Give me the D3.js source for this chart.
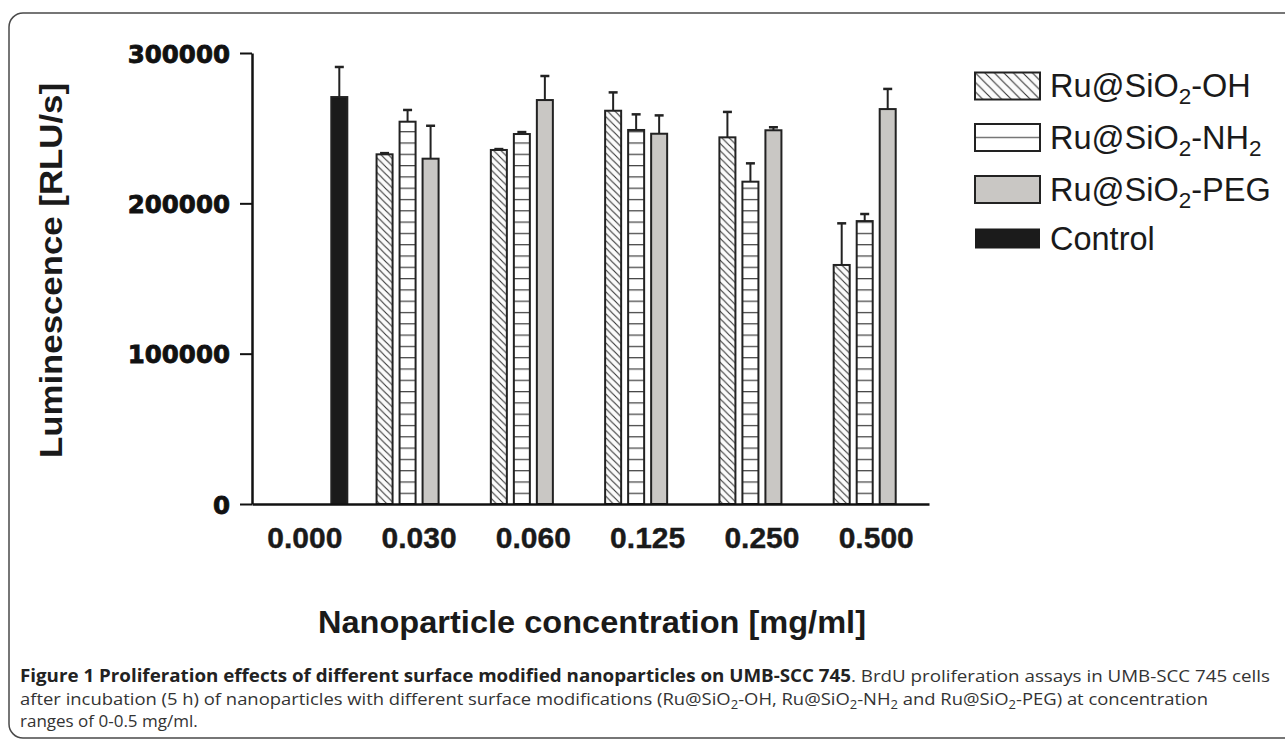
<!DOCTYPE html>
<html>
<head>
<meta charset="utf-8">
<script src="https://cdn.jsdelivr.net/npm/d3@7/dist/d3.min.js"></script>
<style>
  html, body { margin: 0; padding: 0; background: #fff; }
  svg { display: block; }
</style>
</head>
<body>
<svg id="chart" width="1285" height="740"></svg>
<script>
// ---------- data ----------
const categories = ["0.000", "0.030", "0.060", "0.125", "0.250", "0.500"];
const seriesKeys = ["OH", "NH2", "PEG", "Control"];
const ohMean   = [null, 232600, 235500, 261600, 243900, 159000];
const ohSD     = [null,    800,    600,  12200,  16900,  27700];
const nh2Mean  = [null, 254300, 246100, 248800, 214400, 188200];
const nh2SD    = [null,   7800,   1300,  10400,  12200,   4700];
const pegMean  = [null, 229700, 268700, 246300, 248600, 262700];
const pegSD    = [null,  21900,  16000,  12200,   2000,  13400];
const ctrlMean = [270700, null, null, null, null, null];
const ctrlSD   = [ 20000, null, null, null, null, null];
const yTicks = [0, 100000, 200000, 300000];
const legendLabels = [
  {key: "OH",      parts: ["Ru@SiO", "2", "-OH"]},
  {key: "NH2",     parts: ["Ru@SiO", "2", "-NH", "2"]},
  {key: "PEG",     parts: ["Ru@SiO", "2", "-PEG"]},
  {key: "Control", parts: ["Control"]}
];
const xTitle = "Nanoparticle concentration [mg/ml]";
const yTitle = "Luminescence [RLU/s]";

// ---------- build table ----------
const table = [];
categories.forEach((c, i) => {
  const vals = {OH: [ohMean[i], ohSD[i]], NH2: [nh2Mean[i], nh2SD[i]], PEG: [pegMean[i], pegSD[i]], Control: [ctrlMean[i], ctrlSD[i]]};
  seriesKeys.forEach(k => {
    if (vals[k][0] != null) table.push({cat: c, key: k, mean: vals[k][0], sd: vals[k][1]});
  });
});

const svg = d3.select("#chart");

// ---------- frame ----------
svg.append("rect").attr("x", 9).attr("y", 13).attr("width", 1300).attr("height", 725)
  .attr("rx", 14).attr("fill", "none").attr("stroke", "#4a4a4a").attr("stroke-width", 1.5);

// ---------- patterns ----------
const defs = svg.append("defs");
function diag(id, s, sw) {
  const p = defs.append("pattern").attr("id", id).attr("patternUnits", "userSpaceOnUse")
    .attr("width", s).attr("height", s);
  p.append("rect").attr("width", s).attr("height", s).attr("fill", "#fbfbfb");
  p.append("path").attr("d", `M${-s},0 L${s},${2*s} M0,0 L${s},${s} M0,${-s} L${2*s},${s}`)
    .attr("stroke", "#333").attr("stroke-width", sw);
}
diag("hatchOH", 7.3, 1.1);
diag("hatchOHleg", 9.5, 1.1);
const ph = defs.append("pattern").attr("id", "hatchNH2").attr("patternUnits", "userSpaceOnUse")
  .attr("width", 20).attr("height", 11.3).attr("y", 504);
ph.append("rect").attr("width", 20).attr("height", 11.3).attr("fill", "#fff");
ph.append("line").attr("x1", 0).attr("x2", 20).attr("y1", 0.6).attr("y2", 0.6)
  .attr("stroke", "#444").attr("stroke-width", 1.3);

const fills = {OH: "url(#hatchOH)", NH2: "url(#hatchNH2)", PEG: "#c9c7c4", Control: "#1b1b1b"};

// ---------- scales ----------
const y = d3.scaleLinear().domain([0, 300000]).range([504, 53]);
const x0 = d3.scaleBand().domain(categories).range([252, 929]).paddingInner(0.256).paddingOuter(0.09);
const x1 = d3.scaleBand().domain(seriesKeys).range([0, x0.bandwidth()]).paddingInner(0.304).paddingOuter(0);

// ---------- bars ----------
const g = svg.append("g");
g.selectAll("rect.bar").data(table).join("rect").attr("class", "bar")
  .attr("x", d => x0(d.cat) + x1(d.key))
  .attr("y", d => y(d.mean))
  .attr("width", x1.bandwidth())
  .attr("height", d => y(0) - y(d.mean))
  .attr("fill", d => fills[d.key])
  .attr("stroke", "#222").attr("stroke-width", 2);

// error bars (upper only)
const eb = g.selectAll("g.err").data(table.filter(d => d.sd > 0)).join("g").attr("class", "err");
eb.append("line")
  .attr("x1", d => x0(d.cat) + x1(d.key) + x1.bandwidth() / 2)
  .attr("x2", d => x0(d.cat) + x1(d.key) + x1.bandwidth() / 2)
  .attr("y1", d => y(d.mean)).attr("y2", d => y(d.mean + d.sd))
  .attr("stroke", "#222").attr("stroke-width", 2);
eb.append("line")
  .attr("x1", d => x0(d.cat) + x1(d.key) + x1.bandwidth() / 2 - 4.5)
  .attr("x2", d => x0(d.cat) + x1(d.key) + x1.bandwidth() / 2 + 4.5)
  .attr("y1", d => y(d.mean + d.sd)).attr("y2", d => y(d.mean + d.sd))
  .attr("stroke", "#222").attr("stroke-width", 2.5);

// ---------- axes ----------
const yAxis = svg.append("g").attr("transform", "translate(252,0)")
  .call(d3.axisLeft(y).tickValues(yTicks).tickSize(12).tickSizeOuter(0).tickFormat(d3.format("d")).tickPadding(10));
yAxis.select(".domain").attr("stroke", "#111").attr("stroke-width", 2.5);
yAxis.selectAll(".tick line").attr("stroke", "#111").attr("stroke-width", 2);
yAxis.selectAll(".tick text").attr("font-family", "'DejaVu Sans', sans-serif").attr("font-weight", "bold")
  .attr("font-size", 24.5).attr("fill", "#111").attr("stroke", "#111").attr("stroke-width", 0.8)
  .attr("dy", "0.37em");

const xAxis = svg.append("g").attr("transform", "translate(0,504)")
  .call(d3.axisBottom(x0).tickSize(0).tickSizeOuter(0));
xAxis.select(".domain").attr("stroke", "#111").attr("stroke-width", 2.5);
xAxis.selectAll(".tick text").attr("font-family", "'Liberation Sans', Arial, sans-serif").attr("font-weight", "bold")
  .attr("font-size", 30).attr("fill", "#1a1a1a").attr("stroke", "#1a1a1a").attr("stroke-width", 0.4)
  .attr("y", 44).attr("dy", 0);

// ---------- titles ----------
svg.append("text").attr("transform", "translate(62,270.5) rotate(-90)")
  .attr("text-anchor", "middle").attr("font-family", "'Liberation Sans', Arial, sans-serif")
  .attr("font-weight", "bold").attr("font-size", 31).attr("fill", "#1a1a1a")
  .attr("textLength", 375).attr("lengthAdjust", "spacingAndGlyphs").text(yTitle);

svg.append("text").attr("x", 592).attr("y", 633)
  .attr("text-anchor", "middle").attr("font-family", "'Liberation Sans', Arial, sans-serif")
  .attr("font-weight", "bold").attr("font-size", 31).attr("fill", "#1a1a1a")
  .attr("textLength", 548).attr("lengthAdjust", "spacingAndGlyphs").text(xTitle);

// ---------- legend ----------
const legCenters = [86, 137.5, 189.5, 238.5];
const leg = svg.append("g");
legendLabels.forEach((L, i) => {
  const cy = legCenters[i];
  const h = L.key === "Control" ? 20 : 27;
  leg.append("rect").attr("x", 975).attr("y", cy - h / 2).attr("width", 65).attr("height", h)
    .attr("fill", L.key === "OH" ? "url(#hatchOHleg)" : (L.key === "NH2" ? "#fff" : fills[L.key]))
    .attr("stroke", L.key === "Control" ? "none" : "#222").attr("stroke-width", 2);
  if (L.key === "NH2") {
    leg.append("line").attr("x1", 976).attr("x2", 1039).attr("y1", cy).attr("y2", cy)
      .attr("stroke", "#777").attr("stroke-width", 1.5);
  }
  const t = leg.append("text").attr("x", 1050).attr("y", cy + 11)
    .attr("font-family", "'Liberation Sans', Arial, sans-serif").attr("font-size", 32.5).attr("fill", "#1a1a1a");
  L.parts.forEach((p, j) => {
    const isSub = (j % 2 === 1);
    t.append("tspan").attr("font-size", isSub ? 22.5 : 32.5)
      .attr("dy", j === 0 ? 0 : (isSub ? 7 : -7)).text(p);
  });
});

// ---------- caption ----------
const cap = svg.append("g").attr("font-family", "'Open Sans', 'Liberation Sans', sans-serif")
  .attr("font-size", 17).attr("fill", "#333");
const c1 = cap.append("text").attr("x", 20).attr("y", 682)
  .attr("textLength", 1250).attr("lengthAdjust", "spacingAndGlyphs");
c1.append("tspan").attr("font-weight", "bold").attr("fill", "#222")
  .text("Figure 1 Proliferation effects of different surface modified nanoparticles on UMB-SCC 745");
c1.append("tspan").text(". BrdU proliferation assays in UMB-SCC 745 cells");

const c2 = cap.append("text").attr("x", 20).attr("y", 705)
  .attr("textLength", 1188).attr("lengthAdjust", "spacingAndGlyphs");
const c2parts = [
  ["after incubation (5 h) of nanoparticles with different surface modifications (Ru@SiO", 0],
  ["2", 1], ["-OH, Ru@SiO", 0], ["2", 1], ["-NH", 0], ["2", 1], [" and Ru@SiO", 0], ["2", 1],
  ["-PEG) at concentration", 0]
];
c2parts.forEach((p, j) => {
  c2.append("tspan").attr("font-size", p[1] ? 12 : 17)
    .attr("dy", j === 0 ? 0 : (p[1] ? 4 : -4)).text(p[0]);
});
cap.append("text").attr("x", 20).attr("y", 727).text("ranges of 0-0.5 mg/ml.");
</script>
</body>
</html>
